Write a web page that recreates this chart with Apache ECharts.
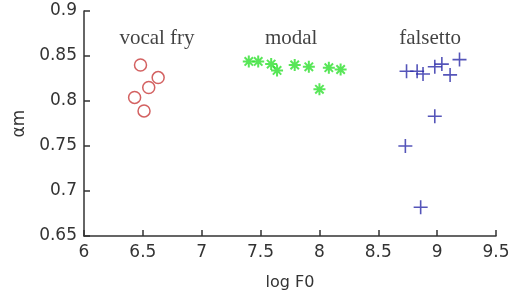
<!DOCTYPE html>
<html>
<head>
<meta charset="utf-8">
<script src="https://cdn.jsdelivr.net/npm/echarts@6/dist/echarts.min.js"></script>
<style>
  html, body { margin: 0; padding: 0; background: #fff; }
  #chart { width: 520px; height: 296px; }
</style>
</head>
<body>
<div id="chart"></div>
<script>
// log F0 / alpha m per phonation type
const vocalFry = [
  [6.48, 0.840], [6.63, 0.826], [6.55, 0.815], [6.43, 0.804], [6.51, 0.789]
];
const modal = [
  [7.40, 0.844], [7.48, 0.844], [7.59, 0.841], [7.64, 0.834], [7.79, 0.840],
  [7.91, 0.838], [8.08, 0.837], [8.18, 0.835], [8.00, 0.813]
];
const falsetto = [
  [8.74, 0.833], [8.83, 0.833], [8.88, 0.830], [8.98, 0.838], [9.04, 0.841],
  [9.11, 0.829], [9.19, 0.846], [8.98, 0.783], [8.73, 0.750], [8.86, 0.682]
];
const groupLabels = [
  ["vocal fry", 6.62, 0.869],
  ["modal", 7.76, 0.869],
  ["falsetto", 8.94, 0.869]
];

const star = "path://M0 -1 L0 1 M-1 0 L1 0 M-0.7 -0.7 L0.7 0.7 M-0.7 0.7 L0.7 -0.7";
const plus = "path://M0 -1 L0 1 M-1 0 L1 0";
const sans = "DejaVu Sans, sans-serif";
const tickFont = { fontFamily: sans, fontSize: 17, color: "#333" };

let chart = echarts.init(document.getElementById("chart"));
chart.setOption({
  animation: false,
  grid: { left: 84, right: 24, top: 11, bottom: 59 },
  xAxis: {
    type: "value",
    min: 6, max: 9.5, interval: 0.5,
    name: "log F0",
    nameLocation: "middle",
    nameGap: 39,
    nameTextStyle: { fontFamily: sans, fontSize: 16, color: "#333" },
    axisLine: { lineStyle: { color: "#333", width: 1.5 } },
    axisTick: { show: true, inside: true, length: 6, lineStyle: { color: "#333", width: 1.5 } },
    axisLabel: Object.assign({ margin: 8 }, tickFont),
    splitLine: { show: false }
  },
  yAxis: {
    type: "value",
    min: 0.65, max: 0.9, interval: 0.05,
    name: "\u03b1m",
    nameLocation: "middle",
    nameGap: 48,
    nameRotate: 90,
    nameTextStyle: { fontFamily: sans, fontSize: 17, color: "#333" },
    axisLine: { show: true, lineStyle: { color: "#333", width: 1.5 } },
    axisTick: { show: true, inside: true, length: 6, lineStyle: { color: "#333", width: 1.5 } },
    axisLabel: Object.assign({ margin: 7 }, tickFont),
    splitLine: { show: false }
  },
  series: [
    {
      type: "scatter", data: vocalFry, symbol: "circle", symbolSize: 12,
      itemStyle: { color: "rgba(0,0,0,0)", borderColor: "#c83a3a", borderWidth: 1.5 }
    },
    {
      type: "scatter", data: modal, symbol: star, symbolSize: 12,
      itemStyle: { color: "none", borderColor: "#2ee02e", borderWidth: 2 }
    },
    {
      type: "scatter", data: falsetto, symbol: plus, symbolSize: 14,
      itemStyle: { color: "none", borderColor: "#2a2aa8", borderWidth: 1.6 }
    },
    {
      type: "scatter",
      data: groupLabels.map(g => ({ name: g[0], value: [g[1], g[2]] })),
      symbolSize: 0,
      silent: true,
      label: {
        show: true, position: "inside", formatter: "{b}",
        fontFamily: "Liberation Serif, Times New Roman, serif", fontSize: 21, color: "#111"
      }
    }
  ]
});
</script>
</body>
</html>
